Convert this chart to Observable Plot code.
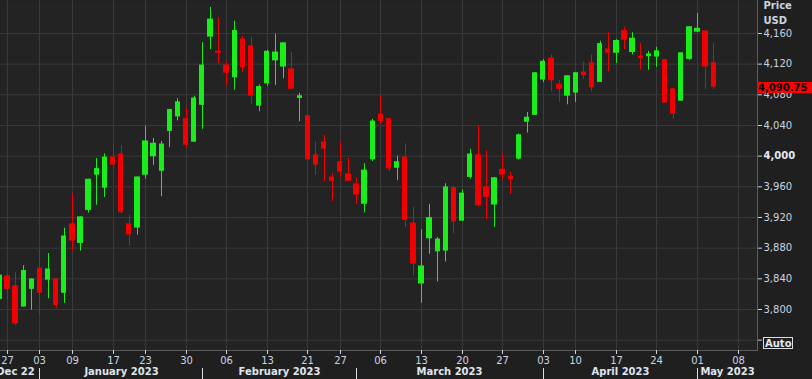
<!DOCTYPE html>
<html><head><meta charset="utf-8">
<script src="https://cdn.jsdelivr.net/npm/d3@7"></script>
<script src="https://cdn.jsdelivr.net/npm/@observablehq/plot@0.6"></script>
<style>
html,body{margin:0;padding:0;background:#1f1f20;}
#chart{width:812px;height:379px;overflow:hidden;}
#chart svg{display:block;}
</style></head><body><div id="chart"></div>
<script>
// ---- data ----
const dates = [
  "2022-12-23","2022-12-27","2022-12-28","2022-12-29","2022-12-30",
  "2023-01-03","2023-01-04","2023-01-05","2023-01-06","2023-01-09","2023-01-10","2023-01-11","2023-01-12","2023-01-13",
  "2023-01-17","2023-01-18","2023-01-19","2023-01-20","2023-01-23","2023-01-24","2023-01-25","2023-01-26","2023-01-27","2023-01-30","2023-01-31",
  "2023-02-01","2023-02-02","2023-02-03","2023-02-06","2023-02-07","2023-02-08","2023-02-09","2023-02-10","2023-02-13","2023-02-14",
  "2023-02-15","2023-02-16","2023-02-17","2023-02-21","2023-02-22","2023-02-23","2023-02-24","2023-02-27","2023-02-28",
  "2023-03-01","2023-03-02","2023-03-03","2023-03-06","2023-03-07","2023-03-08","2023-03-09","2023-03-10","2023-03-13","2023-03-14",
  "2023-03-15","2023-03-16","2023-03-17","2023-03-20","2023-03-21","2023-03-22","2023-03-23","2023-03-24","2023-03-27","2023-03-28",
  "2023-03-29","2023-03-30","2023-03-31",
  "2023-04-03","2023-04-04","2023-04-05","2023-04-06","2023-04-10","2023-04-11","2023-04-12","2023-04-13","2023-04-14","2023-04-17",
  "2023-04-18","2023-04-19","2023-04-20","2023-04-21","2023-04-24","2023-04-25","2023-04-26","2023-04-27","2023-04-28",
  "2023-05-01","2023-05-02","2023-05-03"
];
const futureSessions = ["2023-05-04","2023-05-05","2023-05-08","2023-05-09","2023-05-10"];

const opens = [
  3814, 3843, 3830, 3804, 3827,
  3853, 3839, 3839, 3822, 3911, 3887, 3930, 3976, 3959, 3998, 4002, 3911, 3907, 3976, 4000, 3981, 4033, 4052, 4048, 4019,
  4067, 4156, 4136, 4118, 4103, 4152, 4143, 4066, 4095, 4125, 4117, 4113, 4076, 4052, 4001, 4018, 3972, 3992, 3976,
  3963, 3938, 3996, 4054, 4048, 3985, 3998, 3912, 3834, 3893, 3876, 3877, 3958, 3916, 3973, 4001, 3959, 3937, 3982, 3973, 3997, 4045, 4054,
  4100, 4127, 4093, 4079, 4083, 4109, 4121, 4097, 4139, 4135, 4163, 4136, 4129.5, 4130.5, 4130, 4125, 4087, 4072.5, 4127,
  4162.5, 4162.5, 4121
];
const highs = [
  3846, 3847, 3848, 3857, 3840,
  3878, 3873, 3840, 3906, 3951, 3921, 3970, 3997, 4003, 4015, 4014, 3923, 3973, 4039, 4023, 4019, 4061, 4075, 4063, 4078,
  4148, 4194, 4181, 4123, 4176, 4156, 4155, 4093, 4138, 4159, 4148, 4135, 4082, 4053, 4018, 4027, 3977, 4018, 3997,
  3971, 3990, 4048, 4079, 4049, 4000, 4016, 3933, 3904, 3937, 3894, 3964, 3960, 3956, 4009, 4039, 4007, 3972, 4003, 3979, 4029, 4057, 4109,
  4126, 4132, 4099, 4105, 4109, 4123, 4132, 4150, 4161, 4152, 4168, 4161, 4147, 4136.5, 4142, 4126, 4088, 4135, 4169,
  4186, 4163, 4147
];
const lows = [
  3812, 3812, 3779, 3803, 3799,
  3793, 3814, 3801, 3808, 3876, 3876, 3926, 3936, 3946, 3983, 3925, 3883, 3897, 3970, 3988, 3947, 4011, 4046, 4011, 4018,
  4035, 4139, 4121, 4091, 4086, 4109, 4067, 4058, 4091, 4092, 4101, 4087, 4045, 3993, 3975, 3967, 3941, 3972, 3967,
  3937, 3926, 3993, 4041, 3980, 3968, 3907, 3844, 3808, 3872, 3836, 3862, 3899, 3915, 3970, 3934, 3917, 3907, 3968, 3950, 3995, 4030, 4053,
  4096, 4084, 4070, 4067, 4070, 4100, 4084, 4096, 4110, 4121, 4139, 4132, 4112, 4112, 4116, 4069, 4048, 4072, 4125,
  4161, 4087, 4087
];
const closes = [
  3844, 3827, 3782, 3850, 3839,
  3822, 3852, 3806, 3895, 3890, 3920, 3969, 3983, 3998, 3989, 3927, 3898, 3972, 4019, 4016, 4015, 4060, 4070, 4015, 4075,
  4118, 4178, 4135, 4109, 4163, 4116, 4079, 4090, 4136, 4135, 4147, 4088, 4078, 3996, 3989, 4010, 3968, 3980, 3968,
  3950, 3981, 4045, 4046, 3984, 3992, 3917, 3860, 3856, 3919, 3891, 3959, 3915, 3951, 4002, 3936, 3947, 3971, 3976, 3970, 4027, 4050, 4108,
  4123, 4099, 4088, 4104, 4108, 4106, 4090, 4146, 4135, 4150, 4152, 4153, 4128, 4132.5, 4136.5, 4070, 4055.5, 4134, 4168,
  4166, 4117, 4090.75
];

const dayTickDates = ["2022-12-27","2023-01-03","2023-01-09","2023-01-17","2023-01-23","2023-01-30","2023-02-06","2023-02-13",
  "2023-02-21","2023-02-27","2023-03-06","2023-03-13","2023-03-20","2023-03-27","2023-04-03","2023-04-10","2023-04-17",
  "2023-04-24","2023-05-01","2023-05-08"];
const dayTickLabels = ["27","03","09","17","23","30","06","13","21","27","06","13","20","27","03","10","17","24","01","08"];
const monthStartDates = ["2023-01-03","2023-02-01","2023-03-01","2023-04-03","2023-05-01"];
const monthLabels = ["Dec 22","January 2023","February 2023","March 2023","April 2023","May 2023"];
const yTicks = [3760, 3800, 3840, 3880, 3920, 3960, 4000, 4040, 4080, 4120, 4160];
const lastPrice = 4090.75;

// ---- build ----
const sessions = dates.concat(futureSessions);
const idx = d => sessions.indexOf(d);
const upColor = "#1aee1a", downColor = "#f00000";
const candles = dates.map((d, i) => ({
  i, date: d, open: opens[i], high: highs[i], low: lows[i], close: closes[i],
  color: closes[i] >= opens[i] ? upColor : downColor
}));
const xDomain = [0.14, 93.39];
const yDomain = [3746.5, 4203];
const dayTicks = dayTickDates.map(idx);
const monthStarts = monthStartDates.map(idx);
const bounds = [-1, ...monthStarts, xDomain[1]];
const months = monthLabels.map((label, k) => ({label, x: (bounds[k] + bounds[k + 1]) / 2}));

const grid = "#3a3a3c";
const txt = "#cbd3e0";
const fmt = d3.format(",");

function overlays(index, scales, values, dimensions) {
  const {width, height, marginRight, marginBottom} = dimensions;
  const x0 = width - marginRight;
  const y = Math.round(scales.y(lastPrice)) + 1;
  const g = d3.create("svg:g").attr("text-anchor", "start");
  g.append("rect").attr("x", x0).attr("y", y - 5).attr("width", marginRight).attr("height", 11).attr("fill", "#ff0000");
  g.append("text").attr("x", x0 + 1).attr("y", y).attr("dy", "0.36em").attr("text-anchor", "start")
    .attr("font-weight", "bold").attr("font-size", 10).attr("fill", "#000")
    .text(d3.format(",.2f")(lastPrice));
  const ay = height - marginBottom;
  g.append("rect").attr("x", x0 + 6.5).attr("y", ay - 12.5).attr("width", 29).attr("height", 11)
    .attr("fill", "#1f1f20").attr("stroke", "#d8dde6");
  g.append("text").attr("x", x0 + 8).attr("y", ay - 7).attr("dy", "0.36em").attr("text-anchor", "start")
    .attr("font-weight", "bold").attr("font-size", 10).attr("fill", "#e4e8f0").text("Auto");
  return g.node();
}

const chart = Plot.plot({
  width: 812, height: 379,
  marginTop: 0, marginRight: 55, marginBottom: 29, marginLeft: 0,
  x: {domain: xDomain, axis: null, round: true},
  y: {domain: yDomain, axis: null},
  color: {type: "identity"},
  style: {background: "#1f1f20", fontFamily: "'DejaVu Sans', sans-serif", fontSize: "10px", color: txt},
  marks: [
    Plot.frame({fill: "#232324", stroke: "none"}),
    Plot.ruleX(dayTicks, {stroke: grid}),
    Plot.ruleY(yTicks, {stroke: grid}),
    Plot.frame({anchor: "bottom", stroke: "#5c5c5e"}),
    Plot.frame({anchor: "right", stroke: "#5c5c5e"}),
    Plot.ruleX(candles, {x: "i", y1: "low", y2: "high", stroke: "color", strokeWidth: 1}),
    Plot.rect(candles, {x1: d => d.i - 0.33, x2: d => d.i + 0.33, y1: "open", y2: "close",
      fill: "color", insetTop: -0.6, insetBottom: -0.6}),
    Plot.axisX(dayTicks, {anchor: "bottom", tickSize: 4, tickPadding: 2,
      tickFormat: d => dayTickLabels[dayTicks.indexOf(d)], stroke: txt, fill: txt, fontSize: 10}),
    Plot.axisX(monthStarts, {anchor: "bottom", tickSize: 11, dy: 18, tickFormat: () => "", stroke: "#d8dde6"}),
    Plot.text(months, {x: "x", text: "label", frameAnchor: "bottom", dy: 24, fontWeight: "bold",
      fontSize: 10, fill: "#dfe4ee"}),
    Plot.axisY(yTicks.filter(t => t !== 4000), {anchor: "right", tickSize: 4, tickPadding: 2,
      tickFormat: d => d === 3760 ? "" : fmt(d), stroke: txt, fill: txt, fontSize: 10}),
    Plot.axisY([4000], {anchor: "right", tickSize: 4, tickPadding: 2, tickFormat: fmt,
      stroke: txt, fill: "#e6eaf2", fontSize: 10, fontWeight: "bold"}),
    Plot.text(["Price"], {frameAnchor: "top-right", dx: 6, dy: 1, textAnchor: "start", fontWeight: "bold", fill: txt, fontSize: 10}),
    Plot.text(["USD"], {frameAnchor: "top-right", dx: 6, dy: 16, textAnchor: "start", fontWeight: "bold", fill: txt, fontSize: 10}),
    overlays
  ]
});
document.getElementById("chart").appendChild(chart);
</script>
</body></html>
